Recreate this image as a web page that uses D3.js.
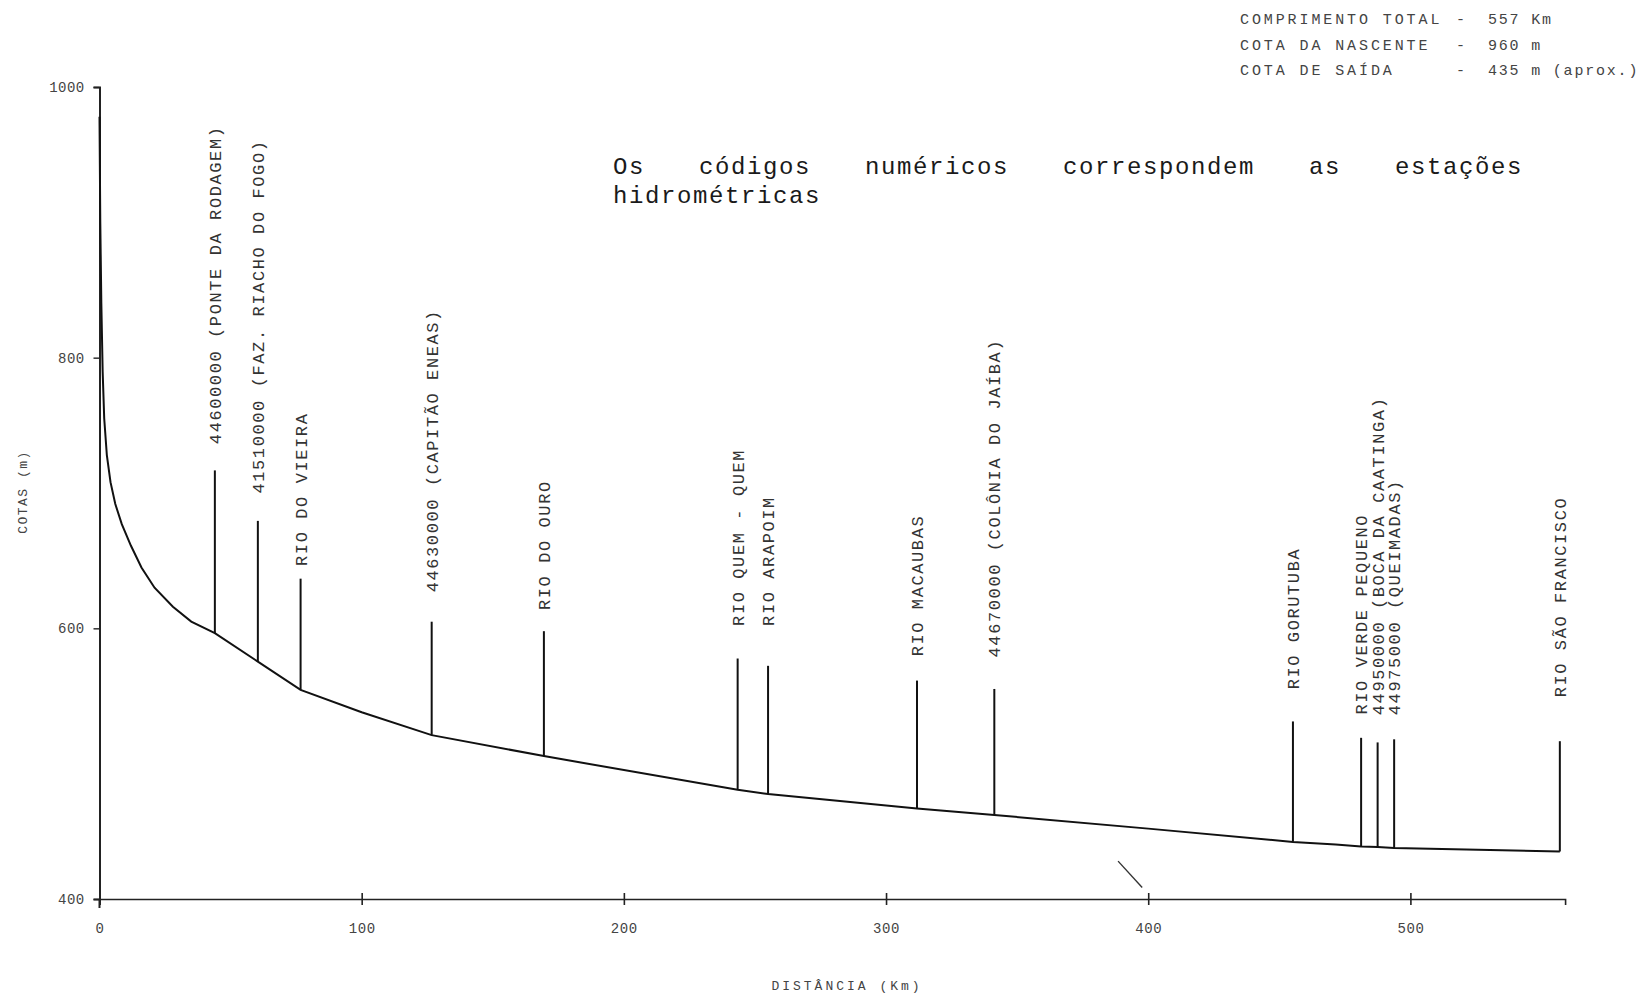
<!DOCTYPE html>
<html>
<head>
<meta charset="utf-8">
<script src="https://cdn.jsdelivr.net/npm/d3@7/dist/d3.min.js"></script>
<style>
	body{margin:0;background:#fff}
	text{font-family:"Liberation Mono","DejaVu Sans Mono",monospace;white-space:pre}
</style>
</head>
<body>
<div id="grafico"></div>
<script>

// perfil do rio: distancia (km) e cota (m)
var perfilKm   = [0, 0.3, 0.7, 1.2, 1.8, 2.8, 4.2, 6, 8.5, 12, 16, 21, 28, 35, 44, 60.4, 76.7, 100, 126.7, 169.5, 243.4, 255, 311.8, 341.3, 400, 455.2, 471.5, 481.2, 487.5, 493.8, 557]
var perfilCota = [978, 900, 840, 790, 755, 728, 708, 692, 677, 661, 645, 630, 616, 605, 596.4, 575.4, 554.5, 538, 521.1, 505.6, 480.7, 477.6, 466.8, 462.1, 452, 442.2, 440.2, 438.8, 438.4, 437.6, 435.1]

// estacoes e afluentes
var estacoes = ["44600000 (PONTE DA RODAGEM)", "41510000 (FAZ. RIACHO DO FOGO)", "RIO DO VIEIRA",
	"44630000 (CAPITÃO ENEAS)", "RIO DO OURO", "RIO QUEM - QUEM", "RIO ARAPOIM", "RIO MACAUBAS",
	"44670000 (COLÔNIA DO JAÍBA)", "RIO GORUTUBA", "RIO VERDE PEQUENO", "44950000 (BOCA DA CAATINGA)",
	"44975000 (QUEIMADAS)", "RIO SÃO FRANCISCO"]
var estacaoKm   = [44, 60.4, 76.7, 126.7, 169.5, 243.4, 255, 311.8, 341.3, 455.2, 481.2, 487.5, 493.8, 557]
var estacaoBase = [596.4, 575.4, 554.5, 521.1, 505.6, 480.7, 477.6, 466.8, 462.1, 442.2, 438.8, 438.4, 437.6, 435.1]
var estacaoTopo = [716.7, 679.4, 636.7, 604.9, 597.9, 577.7, 572.3, 561.4, 555.2, 531.2, 519.1, 515.7, 518.0, 516.6]
var rotuloCota  = [736.1, 699.6, 646.1, 626.6, 613.5, 601.8, 601.8, 579.3, 578.5, 554.9, 536.3, 535.8, 535.8, 549.0]

// eixos
var xTicks = [0, 100, 200, 300, 400, 500]
var yTicks = [400, 600, 800, 1000]

// marca a lapis perto do km 400
var marcaKm   = [388.5, 397.7]
var marcaCota = [428, 408.5]

var infoRotulos = ["COMPRIMENTO TOTAL", "COTA DA NASCENTE", "COTA DE SAÍDA"]
var infoValores = ["557 Km", "960 m", "435 m (aprox.)"]

var nota = ["Os códigos numéricos correspondem as estações", "hidrométricas"]

var width = 1643, height = 994

var svg = d3.select("#grafico").append("svg")
	.attr("width", width)
	.attr("height", height)

var xScale = d3.scaleLinear()
	.domain([0, 559])
	.range([99.5, 99.5 + 559 * 2.6218])

var yScale = d3.scaleLinear()
	.domain([400, 1000])
	.range([899, 87])

// eixo x, tracos cruzando a linha
var gx = svg.append("g")
	.attr("transform", "translate(0,899)")
	.call(d3.axisBottom(xScale).tickValues(xTicks).tickFormat(d3.format("d")).tickSizeOuter(0).tickSize(6).tickPadding(18))
gx.select(".domain").attr("stroke", "#222").attr("stroke-width", 1.6)
gx.selectAll(".tick line").attr("y1", -6).attr("y2", 6).attr("stroke", "#222").attr("stroke-width", 1.6)
gx.selectAll(".tick text").attr("font-size", 14).attr("fill", "#444").attr("letter-spacing", 0.6)
	.style("font-family", "'Liberation Mono', monospace")

// eixo y
var gy = svg.append("g")
	.attr("transform", "translate(99.5,0)")
	.call(d3.axisLeft(yScale).tickValues(yTicks).tickFormat(d3.format("d")).tickSizeOuter(0).tickSize(6).tickPadding(9))
gy.select(".domain").attr("stroke", "#222").attr("stroke-width", 2)
gy.selectAll(".tick line").attr("stroke", "#222").attr("stroke-width", 1.4)
gy.selectAll(".tick text").attr("font-size", 14).attr("fill", "#444").attr("letter-spacing", 0.4)
	.style("font-family", "'Liberation Mono', monospace")

// prolonga o eixo y um pouco abaixo do eixo x
svg.append("line")
	.attr("x1", xScale(0)).attr("x2", xScale(0))
	.attr("y1", yScale(400)).attr("y2", yScale(400) + 9)
	.attr("stroke", "#222").attr("stroke-width", 2)

// perfil
var linha = d3.line()
	.x(function(d) { return xScale(d[0]) })
	.y(function(d) { return yScale(d[1]) })

svg.append("path")
	.datum(d3.zip(perfilKm, perfilCota))
	.attr("d", linha)
	.attr("fill", "none")
	.attr("stroke", "#111")
	.attr("stroke-width", 2)

// linhas das estacoes
var est = estacoes.map(function(n, i) {
	return {nome: n, km: estacaoKm[i], base: estacaoBase[i], topo: estacaoTopo[i], rot: rotuloCota[i]}
})

svg.selectAll(".estacao")
	.data(est)
	.enter().append("line")
	.attr("class", "estacao")
	.attr("x1", function(d) { return xScale(d.km) })
	.attr("x2", function(d) { return xScale(d.km) })
	.attr("y1", function(d) { return yScale(d.base) })
	.attr("y2", function(d) { return yScale(d.topo) })
	.attr("stroke", "#111")
	.attr("stroke-width", 2)

svg.selectAll(".rotulo")
	.data(est)
	.enter().append("text")
	.attr("class", "rotulo")
	.attr("transform", function(d) { return "translate(" + xScale(d.km) + "," + yScale(d.rot) + ") rotate(-90)" })
	.attr("dy", "0.35em")
	.attr("font-size", 17)
	.attr("letter-spacing", 1.6)
	.attr("fill", "#333")
	.text(function(d) { return d.nome })

// marca
svg.append("path")
	.datum(d3.zip(marcaKm, marcaCota))
	.attr("d", linha)
	.attr("stroke", "#333")
	.attr("stroke-width", 1.4)
	.attr("fill", "none")

// titulos dos eixos
svg.append("text")
	.attr("transform", "translate(27,492) rotate(-90)")
	.attr("text-anchor", "middle")
	.attr("font-size", 13)
	.attr("letter-spacing", 1.5)
	.attr("fill", "#444")
	.text("COTAS (m)")

svg.append("text")
	.attr("x", 847).attr("y", 990)
	.attr("text-anchor", "middle")
	.attr("font-size", 13)
	.attr("letter-spacing", 3)
	.attr("fill", "#444")
	.text("DISTÂNCIA (Km)")

// nota
svg.selectAll(".nota")
	.data(nota)
	.enter().append("text")
	.attr("class", "nota")
	.attr("x", 613)
	.attr("y", function(d, i) { return 174 + i * 29 })
	.attr("font-size", 24)
	.attr("letter-spacing", 1.6)
	.attr("word-spacing", function(d, i) { return i == 0 ? 38 : 0 })
	.attr("fill", "#1a1a1a")
	.text(function(d) { return d })

// quadro do canto
infoRotulos.forEach(function(r, i) {
	var y = 24 + i * 25.5
	svg.append("text")
		.attr("x", 1240).attr("y", y)
		.attr("font-size", 15).attr("letter-spacing", 2.9).attr("fill", "#444")
		.text(r)
	svg.append("text")
		.attr("x", 1456).attr("y", y)
		.attr("font-size", 15).attr("letter-spacing", 3).attr("fill", "#444")
		.text("-")
	svg.append("text")
		.attr("x", 1488).attr("y", y)
		.attr("font-size", 15).attr("letter-spacing", 1.8).attr("fill", "#444")
		.text(infoValores[i])
})

</script>
</body>
</html>
